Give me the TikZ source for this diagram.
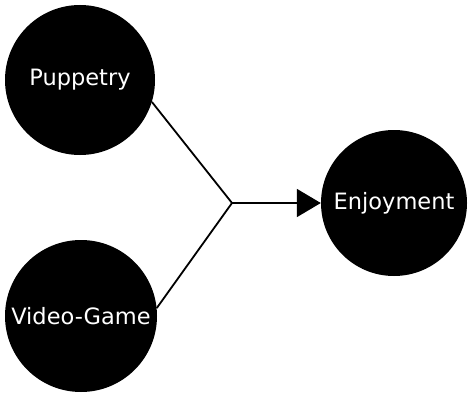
\documentclass[tikz,border=0pt]{standalone}
\usepackage{fontspec}
\setmainfont{DejaVu Sans}
\usetikzlibrary{arrows.meta}

\begin{document}
\begin{tikzpicture}[x=1pt,y=1pt,
	factor/.style={circle,fill=black,text=white,inner sep=0pt,
		font=\fontsize{22.5}{25}\selectfont},
	link/.style={black,line width=1.8pt}]
	\useasboundingbox (0,0) rectangle (468,392);
	\node [factor,minimum size=150pt] (pup) at (80,312) {Puppetry};
	\node [factor,minimum size=152pt] (vid) at (81,76) {Video-Game};
	\node [factor,minimum size=146pt] (enj) at (394,189) {Enjoyment};
	\coordinate (join) at (232,189);
	\draw [link] (pup.-17) -- (join);
	\draw [link] (vid.6) -- (join);
	\draw [link,-{Triangle[length=24pt,width=28pt]}] (join) -- (enj);
\end{tikzpicture}
\end{document}
